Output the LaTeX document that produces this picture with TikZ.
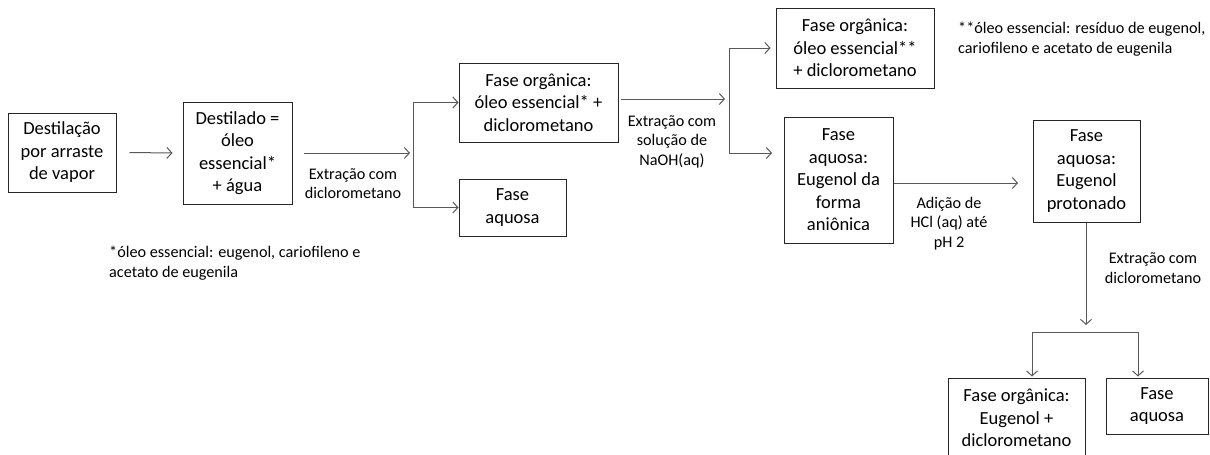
\documentclass[tikz,border=0pt]{standalone}
\usepackage{fontspec}
\setmainfont{Carlito}
\usetikzlibrary{arrows.meta}
\newcommand\boxfont{\fontsize{18.5}{22.5}\selectfont}
\newcommand\lblfont{\fontsize{16.2}{19.5}\selectfont}
\begin{document}
\begin{tikzpicture}[x=1pt,y=-1pt,
  box/.style={draw=black!85,line width=1pt,align=center,inner sep=0pt,font=\boxfont,text=black},
  arr/.style={draw=black!65,line width=1pt,-{Straight Barb[length=5pt,width=11pt]}},
  ln/.style={draw=black!65,line width=1pt},
  lbl/.style={align=center,font=\lblfont,text=black,inner sep=0pt},
  note/.style={align=left,font=\lblfont,text=black,inner sep=0pt,anchor=west}]
\useasboundingbox (0,0) rectangle (1210,455);
\clip (0,0) rectangle (1210,455);
\fill[white] (0,0) rectangle (1210,455);

\node[box,minimum width=108,minimum height=79] (b1) at (62,152.5) {Destilação\\por arraste\\de vapor};
\node[box,minimum width=109,minimum height=102] (b2) at (237.5,153) {Destilado =\\óleo\\essencial*\\+ água};
\node[box,minimum width=159,minimum height=79] (b3) at (538.5,102.5) {Fase orgânica:\\óleo essencial* +\\diclorometano};
\node[box,minimum width=107,minimum height=57] (b4) at (512.5,207.5) {Fase\\aquosa};
\node[box,minimum width=158,minimum height=80] (b5) at (855,48) {Fase orgânica:\\óleo essencial**\\+ diclorometano};
\node[box,minimum width=109,minimum height=126] (b6) at (838.5,180) {Fase\\aquosa:\\Eugenol da\\forma\\aniônica};
\node[box,minimum width=107,minimum height=102] (b7) at (1086.5,171) {Fase\\aquosa:\\Eugenol\\protonado};
\node[box,minimum width=137,minimum height=80] (b8) at (1016.5,418) {Fase orgânica:\\Eugenol +\\diclorometano};
\node[box,minimum width=102,minimum height=56] (b9) at (1157,406) {Fase\\aquosa};

\node[note] (n1) at (109,263) {*óleo essencial: eugenol, cariofileno e\\acetato de eugenila};
\node[note] (n2) at (958,39) {**óleo essencial: resíduo de eugenol,\\cariofileno e acetato de eugenila};

% step 1
\draw[arr] ([xshift=13pt]b1.east) -- ([xshift=-10pt]b2.west);

% step 2
\coordinate (j1) at (413,153);
\draw[arr] ([xshift=11pt]b2.east) -- ([xshift=-3pt]j1);
\draw[ln] (j1 |- b3.west) -- (j1 |- b4.west);
\draw[arr] (j1 |- b3.west) -- (b3.west);
\draw[arr] (j1 |- b4.west) -- (b4.west);
\node[lbl] (l1) at (353,183.5) {Extração com\\diclorometano};

% step 3
\coordinate (j2) at (729,99);
\coordinate (j2t) at (729,48);
\coordinate (j2b) at (729,153);
\coordinate (e2) at (772,153);
\draw[arr] (b3.east |- j2) ++(2,0) -- ([xshift=-4pt]j2);
\draw[ln] (j2t) -- (j2b);
\draw[arr] (j2t) -- ([xshift=-5pt]b5.west);
\draw[arr] (j2b) -- (e2);
\node[lbl] (l2) at (672,141.5) {Extração com\\solução de\\NaOH(aq)};

% step 4
\coordinate (e3) at (1018,183);
\draw[arr] (b6.east |- e3) -- (e3);
\node[lbl] (l3) at (949,223.5) {Adição de\\HCl (aq) até\\pH 2};

% step 5
\coordinate (e4) at (1086,325);
\coordinate (k1) at (1032,332);
\coordinate (k2) at (1138,332);
\draw[arr] (b7.south -| e4) -- (e4);
\draw[ln] (k1) -- (k2);
\draw[arr] (k1) -- ([yshift=1pt]k1 |- b8.north);
\draw[arr] (k2) -- ([yshift=1pt]k2 |- b9.north);
\node[lbl] (l4) at (1153,268) {Extração com\\diclorometano};
\end{tikzpicture}
\end{document}
